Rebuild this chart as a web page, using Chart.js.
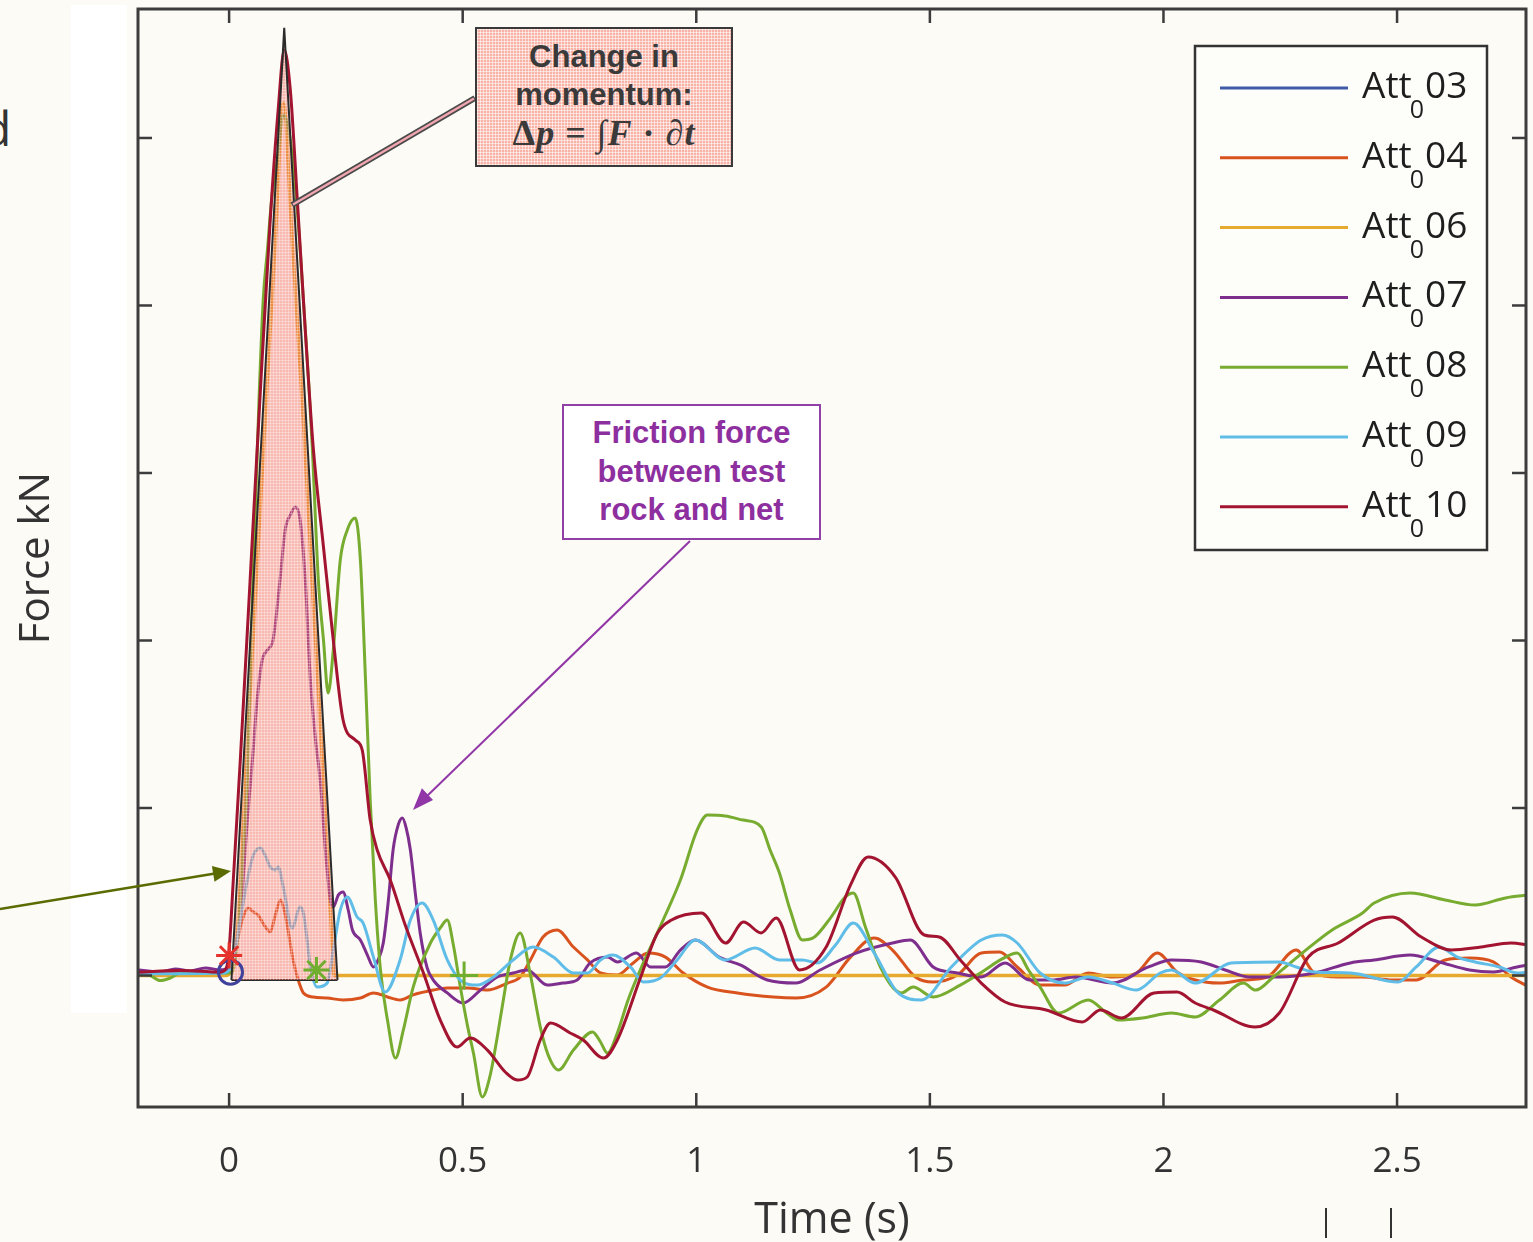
<!DOCTYPE html>
<html>
<head>
<meta charset="utf-8">
<script src="https://cdn.jsdelivr.net/npm/chart.js@4.4.1/dist/chart.umd.min.js"></script>
<style>
html,body{margin:0;padding:0;background:#FCFBF6;}
#wrap{position:relative;width:1533px;height:1242px;overflow:hidden;background:#FCFBF6;}
#strip{position:absolute;left:71px;top:5px;width:56px;height:1008px;background:#FFFFFF;}
#cwrap{position:absolute;left:0;top:0;width:1533px;height:1242px;}
#ov{position:absolute;left:0;top:0;pointer-events:none;}
.cut{position:absolute;left:-18px;top:104px;font:48px/48px "Open Sans";color:#333;}
.vmark{position:absolute;top:1208px;width:2px;height:30px;background:#333;}
#box1{position:absolute;left:475px;top:27px;width:258px;height:140px;box-sizing:border-box;border:2px solid #3a3a3a;
  background-color:#F8B2A6;
  background-image:linear-gradient(rgba(255,255,255,.55) 1px, transparent 1px),linear-gradient(90deg, rgba(255,255,255,.55) 1px, transparent 1px);
  background-size:3px 3px;text-align:center;color:#3a3a3a;font:bold 31px/38px "Liberation Sans",Arial,sans-serif;padding-top:9px;}
#box1 .m{font:bold 36px/38px "Liberation Serif","DejaVu Serif",serif;letter-spacing:1px;}
#box2{position:absolute;left:562px;top:404px;width:259px;height:136px;box-sizing:border-box;border:2px solid #9140A6;background:#FFFFFF;
  text-align:center;color:#8E2FA0;font:bold 31px/38.5px "Liberation Sans",Arial,sans-serif;padding-top:8px;}
</style>
</head>
<body>
<div id="wrap">
  <div id="strip"></div>
  <div class="cut">d</div>
  <div id="cwrap"><canvas id="c"></canvas></div>
  <svg id="ov" width="1533" height="1242">
    <line x1="475" y1="98" x2="292" y2="205" stroke="#4a4a4a" stroke-width="6"/>
    <line x1="474" y1="98.5" x2="293" y2="204.5" stroke="#F2A6B0" stroke-width="2.5"/>
    <line x1="0" y1="909" x2="215" y2="873.6" stroke="#5B6B00" stroke-width="2.5"/>
    <polygon points="231,871 214.5,881.8 211.9,866" fill="#5B6B00"/>
    <line x1="690" y1="541" x2="425" y2="798" stroke="#9036A6" stroke-width="2"/>
    <polygon points="413,810 433,799.9 421.9,788.3" fill="#9036A6"/>
  </svg>
  <div id="box1">Change in<br>momentum:<br><span class="m">Δ<i>p</i> = ∫<i>F</i> · <i>∂t</i></span></div>
  <div id="box2">Friction force<br>between test<br>rock and net</div>
  <div class="vmark" style="left:1325px"></div>
  <div class="vmark" style="left:1390px"></div>
</div>
<script>
// ---------- data (time in s, force in axis units) ----------
const xTickValues = [0, 0.5, 1, 1.5, 2, 2.5];
const xTickLabels = ['0', '0.5', '1', '1.5', '2', '2.5'];
const yTickValues = [0, 1, 2, 3, 4, 5];

const seriesLabels = ['Att₀03', 'Att₀04', 'Att₀06', 'Att₀07', 'Att₀08', 'Att₀09', 'Att₀10'];
const seriesColors = ['#3F5BA9', '#D9531E', '#E6AA2E', '#7E2F8E', '#77AC30', '#5FBDE8', '#A2142F'];
const seriesWidths = [3, 3, 3.5, 3, 3, 3, 3];

const att03 = [[-0.194,0.012],[-0.1,0.015],[-0.02,0.012],[0.003,0.02]];

const att04 = [[-0.194,0.015],[-0.008,0.015],[0.007,0.093],[0.018,0.212],[0.028,0.331],[0.041,0.403],[0.052,0.379],
[0.062,0.361],[0.075,0.301],[0.088,0.26],[0.099,0.361],[0.11,0.451],[0.118,0.391],[0.125,0.29],[0.137,0.093],
[0.148,-0.027],[0.159,-0.104],[0.18,-0.128],[0.21,-0.134],[0.244,-0.146],[0.281,-0.134],[0.309,-0.104],[0.339,-0.128],
[0.366,-0.146],[0.394,-0.116],[0.437,-0.087],[0.467,-0.075],[0.51,-0.075],[0.553,-0.087],[0.596,-0.045],[0.623,-0.009],
[0.645,0.093],[0.672,0.23],[0.702,0.272],[0.737,0.17],[0.767,0.093],[0.795,0.015],[0.831,0.003],[0.865,0.075],
[0.897,0.134],[0.934,0.11],[0.972,0.015],[1.024,-0.069],[1.088,-0.104],[1.165,-0.128],[1.214,-0.134],[1.278,-0.069],
[1.33,0.11],[1.381,0.224],[1.42,0.152],[1.469,-0.009],[1.507,-0.039],[1.559,0.003],[1.61,0.134],[1.649,0.14],
[1.687,0.051],[1.736,-0.057],[1.788,-0.057],[1.839,0.015],[1.891,-0.009],[1.942,0.015],[1.987,0.134],[2.029,0.021],
[2.068,-0.027],[2.12,-0.045],[2.171,-0.027],[2.222,-0.009],[2.284,0.152],[2.323,0.015],[2.374,-0.009],[2.426,-0.009],
[2.49,-0.027],[2.541,-0.027],[2.603,0.093],[2.655,0.104],[2.706,0.081],[2.744,-0.009],[2.783,-0.069]];

const att06 = [[-0.194,0],[-0.008,0],[0.018,0.272],[0.035,1.167],[0.056,2.242],[0.077,3.316],[0.099,4.391],
[0.116,5.209],[0.135,4.391],[0.159,3.316],[0.18,2.242],[0.202,1.167],[0.219,0.272],[0.225,0],[2.783,0]];

const att07 = [[-0.194,0.033],[-0.147,0.021],[-0.115,0.039],[-0.083,0.027],[-0.051,0.045],[-0.019,0.033],[-0.002,0.045],
[0.009,0.093],[0.02,0.272],[0.03,0.57],[0.039,0.928],[0.05,1.287],[0.06,1.645],[0.071,1.884],[0.082,1.943],[0.094,2.003],
[0.109,2.361],[0.12,2.66],[0.131,2.749],[0.142,2.797],[0.152,2.719],[0.163,2.361],[0.174,1.764],[0.185,1.406],[0.195,1.167],
[0.206,0.749],[0.217,0.451],[0.223,0.409],[0.234,0.481],[0.244,0.499],[0.255,0.391],[0.264,0.272],[0.281,0.212],
[0.296,0.122],[0.309,0.051],[0.319,0.093],[0.33,0.194],[0.341,0.451],[0.351,0.749],[0.362,0.899],[0.371,0.94],
[0.379,0.881],[0.388,0.749],[0.399,0.481],[0.409,0.254],[0.424,0.045],[0.437,-0.027],[0.467,-0.104],[0.501,-0.164],
[0.538,-0.087],[0.574,-0.009],[0.608,0.015],[0.638,0.033],[0.681,-0.057],[0.715,-0.045],[0.745,-0.027],[0.773,0.075],
[0.81,0.11],[0.831,0.081],[0.872,0.134],[0.902,0.051],[0.934,0.051],[0.966,0.152],[0.998,0.212],[1.049,0.11],
[1.094,0.063],[1.152,-0.027],[1.214,-0.045],[1.265,0.033],[1.342,0.134],[1.42,0.194],[1.458,0.212],[1.507,0.051],
[1.559,0.015],[1.61,-0.009],[1.661,0.075],[1.713,-0.027],[1.762,-0.027],[1.813,-0.009],[1.891,-0.045],[1.968,0.051],
[2.017,0.093],[2.081,0.081],[2.132,0.033],[2.184,-0.009],[2.248,-0.009],[2.323,0.015],[2.4,0.075],[2.451,0.093],
[2.528,0.122],[2.59,0.081],[2.655,0.033],[2.706,0.021],[2.757,0.051],[2.783,0.063]];

const att08 = [[-0.194,0.01],[-0.169,0],[-0.147,-0.03],[-0.126,-0.015],[-0.104,0.015],[-0.019,0.015],[0.007,0.02],
[0.02,0.272],[0.03,0.749],[0.039,1.167],[0.047,2.003],[0.056,2.761],[0.064,3.436],[0.073,4.033],[0.082,4.331],
[0.092,4.66],[0.103,4.869],[0.116,5.137],[0.131,4.988],[0.146,4.57],[0.159,4.033],[0.17,3.555],[0.178,3.155],
[0.191,2.361],[0.202,2.003],[0.212,1.687],[0.223,1.943],[0.238,2.481],[0.253,2.66],[0.27,2.731],[0.281,2.481],
[0.292,1.764],[0.302,1.048],[0.313,0.451],[0.324,0.033],[0.339,-0.266],[0.356,-0.493],[0.373,-0.325],[0.394,-0.069],
[0.431,0.194],[0.452,0.284],[0.467,0.331],[0.48,0.182],[0.495,-0.069],[0.51,-0.296],[0.523,-0.463],[0.542,-0.725],
[0.559,-0.594],[0.574,-0.367],[0.587,-0.146],[0.602,0.093],[0.623,0.254],[0.645,0.003],[0.666,-0.307],[0.683,-0.475],
[0.705,-0.564],[0.737,-0.445],[0.778,-0.337],[0.795,-0.397],[0.81,-0.463],[0.831,-0.343],[0.854,-0.146],[0.88,0.033],
[0.929,0.331],[0.966,0.57],[1.002,0.869],[1.024,0.958],[1.062,0.952],[1.1,0.928],[1.139,0.887],[1.158,0.749],
[1.178,0.612],[1.201,0.391],[1.227,0.212],[1.253,0.23],[1.287,0.343],[1.319,0.469],[1.336,0.493],[1.362,0.29],
[1.394,0.051],[1.439,-0.104],[1.464,-0.069],[1.507,-0.128],[1.565,-0.057],[1.618,0.033],[1.651,0.093],[1.687,0.134],
[1.711,0.033],[1.736,-0.069],[1.775,-0.224],[1.839,-0.146],[1.878,-0.224],[1.903,-0.266],[1.955,-0.254],[2.017,-0.224],
[2.068,-0.248],[2.12,-0.146],[2.171,-0.045],[2.197,-0.087],[2.235,-0.009],[2.297,0.134],[2.361,0.272],[2.426,0.373],
[2.451,0.433],[2.528,0.493],[2.603,0.451],[2.667,0.421],[2.732,0.463],[2.783,0.481]];

const att09 = [[-0.194,0.01],[-0.008,0.015],[0.009,0.093],[0.024,0.331],[0.039,0.57],[0.052,0.719],[0.067,0.761],
[0.077,0.719],[0.088,0.648],[0.099,0.63],[0.105,0.648],[0.116,0.528],[0.135,0.284],[0.152,0.409],[0.159,0.373],
[0.167,0.212],[0.174,0.051],[0.189,-0.069],[0.21,-0.045],[0.223,0.152],[0.238,0.391],[0.253,0.469],[0.274,0.349],
[0.287,0.313],[0.309,0.11],[0.334,-0.099],[0.366,0.093],[0.388,0.331],[0.413,0.433],[0.437,0.331],[0.467,0.093],
[0.495,-0.027],[0.531,-0.057],[0.566,-0.009],[0.608,0.093],[0.651,0.17],[0.694,0.11],[0.737,0.015],[0.767,0.015],
[0.795,0.093],[0.822,0.122],[0.859,0.051],[0.887,-0.039],[0.923,-0.015],[0.959,0.093],[0.998,0.212],[1.062,0.093],
[1.126,0.164],[1.178,0.093],[1.227,0.093],[1.259,0.075],[1.298,0.182],[1.336,0.313],[1.381,0.134],[1.432,-0.104],
[1.482,-0.146],[1.546,0.051],[1.61,0.212],[1.655,0.242],[1.687,0.194],[1.736,0.015],[1.788,-0.045],[1.839,-0.009],
[1.891,-0.045],[1.942,-0.087],[1.993,0.015],[2.017,0.033],[2.068,-0.045],[2.145,0.075],[2.248,0.081],[2.284,0.051],
[2.323,0.021],[2.4,0.015],[2.502,-0.039],[2.541,0.051],[2.59,0.17],[2.629,0.11],[2.667,0.081],[2.719,0.051],
[2.757,0.015],[2.783,0.021]];

const att10 = [[-0.194,0.02],[-0.104,0.03],[-0.019,0.02],[-0.006,0.045],[0.0,0.152],[0.009,0.57],[0.024,1.287],
[0.045,2.361],[0.067,3.496],[0.088,4.51],[0.105,5.167],[0.118,5.525],[0.131,5.287],[0.146,4.63],[0.163,3.854],
[0.18,3.155],[0.202,2.558],[0.223,2.003],[0.244,1.525],[0.27,1.406],[0.285,1.346],[0.302,0.928],[0.317,0.749],
[0.345,0.57],[0.377,0.301],[0.416,0.015],[0.452,-0.266],[0.488,-0.427],[0.516,-0.373],[0.553,-0.445],[0.591,-0.576],
[0.617,-0.624],[0.638,-0.606],[0.666,-0.385],[0.688,-0.284],[0.73,-0.343],[0.758,-0.385],[0.801,-0.493],[0.831,-0.385],
[0.881,-0.009],[0.917,0.254],[0.947,0.331],[1.011,0.373],[1.063,0.194],[1.101,0.319],[1.139,0.254],[1.171,0.343],
[1.221,0.033],[1.278,0.17],[1.33,0.54],[1.368,0.707],[1.426,0.588],[1.488,0.242],[1.52,0.23],[1.565,0.093],
[1.61,-0.045],[1.661,-0.158],[1.749,-0.206],[1.826,-0.278],[1.865,-0.206],[1.91,-0.254],[1.98,-0.104],[2.029,-0.099],
[2.068,-0.164],[2.107,-0.206],[2.196,-0.307],[2.248,-0.224],[2.31,0.11],[2.374,0.194],[2.451,0.331],[2.49,0.349],
[2.552,0.23],[2.616,0.152],[2.68,0.17],[2.744,0.194],[2.783,0.182]];

// impulse area (shaded) and event markers
const impulseArea = [[0.005,-0.027],[0.118,5.657],[0.232,-0.027]];
const impulseBase = [[0.005,-0.027],[0.232,-0.027]];
const markerRedStar = [[0.0,0.12]];
const markerBlueCircle = [[0.003,0.02]];
const markerGreenStar = [[0.187,0.033]];
const markerGreenPlus = [[0.503,0.0]];

// ---------- build ----------
const toXY = arr => arr.map(p => ({x: p[0], y: p[1]}));
function gridPattern(base, line, size) {
  const c = document.createElement('canvas'); c.width = size; c.height = size;
  const g = c.getContext('2d');
  g.fillStyle = base; g.fillRect(0, 0, size, size);
  g.fillStyle = line; g.fillRect(0, 0, size, 1); g.fillRect(0, 0, 1, size);
  return c;
}
const canvas = document.getElementById('c');
const ctx0 = canvas.getContext('2d');
const pinkPattern = ctx0.createPattern(gridPattern('rgba(245,105,90,0.45)', 'rgba(255,255,255,0.3)', 3), 'repeat');

const seriesData = [att03, att04, att06, att07, att08, att09, att10];
const datasets = seriesData.map((d, i) => ({
  label: seriesLabels[i], data: toXY(d), borderColor: seriesColors[i], borderWidth: seriesWidths[i],
  pointRadius: 0, fill: false, cubicInterpolationMode: 'monotone', order: 6 - i
}));
datasets.push({label: 'impulse', data: toXY(impulseArea), borderColor: '#2b2b2b', borderWidth: 2,
  backgroundColor: pinkPattern, fill: {value: -0.027}, pointRadius: 0, tension: 0, cubicInterpolationMode: 'default', order: -1});
datasets.push({label: 'impulseBase', data: toXY(impulseBase), borderColor: '#2b2b2b', borderWidth: 2,
  pointRadius: 0, fill: false, tension: 0, order: -1});
const mk = (data, style, color, r) => ({label: 'marker', data: toXY(data), showLine: false, pointStyle: style,
  pointRadius: r, pointBorderColor: color, pointBackgroundColor: 'rgba(0,0,0,0)', pointBorderWidth: 3, order: -2});
datasets.push(mk(markerRedStar, 'star', '#E5322D', 13));
datasets.push(mk(markerBlueCircle, 'circle', '#40419A', 12));
datasets.push(mk(markerGreenStar, 'star', '#6FAE2E', 13));
datasets.push(mk(markerGreenPlus, 'cross', '#6FAE2E', 14));

const boxPlugin = {
  id: 'matlabBox',
  afterDatasetsDraw(chart) {
    const {ctx, chartArea: a, scales: {x, y}} = chart;
    ctx.save();
    ctx.strokeStyle = '#3c3c3c'; ctx.lineWidth = 3;
    ctx.strokeRect(a.left, a.top, a.right - a.left, a.bottom - a.top);
    ctx.lineWidth = 2.5;
    const L = 14;
    const seg = (x1, y1, x2, y2) => { ctx.beginPath(); ctx.moveTo(x1, y1); ctx.lineTo(x2, y2); ctx.stroke(); };
    xTickValues.forEach(v => { const px = x.getPixelForValue(v); seg(px, a.bottom, px, a.bottom - L); seg(px, a.top, px, a.top + L); });
    yTickValues.forEach(v => { const py = y.getPixelForValue(v); seg(a.left, py, a.left + L, py); seg(a.right, py, a.right - L, py); });
    // legend
    const bx = a.right - 331, by = a.top + 37, bw = 292, bh = 504;
    ctx.fillStyle = '#FDFDFA'; ctx.fillRect(bx, by, bw, bh);
    ctx.strokeStyle = '#333'; ctx.lineWidth = 2.5; ctx.strokeRect(bx, by, bw, bh);
    seriesLabels.forEach((lab, i) => {
      const yy = by + 42 + i * 69.8;
      ctx.strokeStyle = seriesColors[i]; ctx.lineWidth = 3;
      seg(bx + 25, yy, bx + 153, yy);
      const parts = lab.split('₀');
      ctx.fillStyle = '#1e1e1e'; ctx.textBaseline = 'alphabetic'; ctx.textAlign = 'left';
      ctx.font = '37px "Open Sans"';
      let tx = bx + 167;
      ctx.fillText(parts[0], tx, yy + 10);
      tx += ctx.measureText(parts[0]).width - 2;
      ctx.font = '25px "Open Sans"';
      ctx.fillText('0', tx, yy + 30);
      tx += ctx.measureText('0').width + 1;
      ctx.font = '37px "Open Sans"';
      ctx.fillText(parts[1], tx, yy + 10);
    });
    ctx.restore();
  }
};

new Chart(canvas, {
  type: 'line',
  data: {datasets},
  plugins: [boxPlugin],
  options: {
    responsive: true, maintainAspectRatio: false, animation: false,
    layout: {autoPadding: false, padding: {top: 9, right: 7, left: 0, bottom: 0}},
    plugins: {legend: {display: false}, tooltip: {enabled: false}},
    scales: {
      x: {
        type: 'linear', min: -0.195, max: 2.776,
        grid: {display: false, drawTicks: false}, border: {display: false},
        afterBuildTicks: s => { s.ticks = xTickValues.map(v => ({value: v})); },
        afterFit: s => { s.height = 135; },
        ticks: {padding: 34, color: '#333', maxRotation: 0, autoSkip: false,
          font: {family: 'Open Sans', size: 35},
          callback: v => xTickLabels[xTickValues.indexOf(v)]},
        title: {display: true, text: 'Time (s)', color: '#333',
          font: {family: 'Open Sans', size: 43, lineHeight: 1}, padding: 0}
      },
      y: {
        type: 'linear', min: -0.785, max: 5.77,
        grid: {display: false, drawTicks: false}, border: {display: false},
        afterBuildTicks: s => { s.ticks = yTickValues.map(v => ({value: v})); },
        afterFit: s => { s.width = 138; },
        ticks: {display: false},
        title: {display: true, text: 'Force kN', color: '#333',
          font: {family: 'Open Sans', size: 42, lineHeight: 1}, padding: {top: 16, bottom: 0}}
      }
    }
  }
});
</script>
</body>
</html>
